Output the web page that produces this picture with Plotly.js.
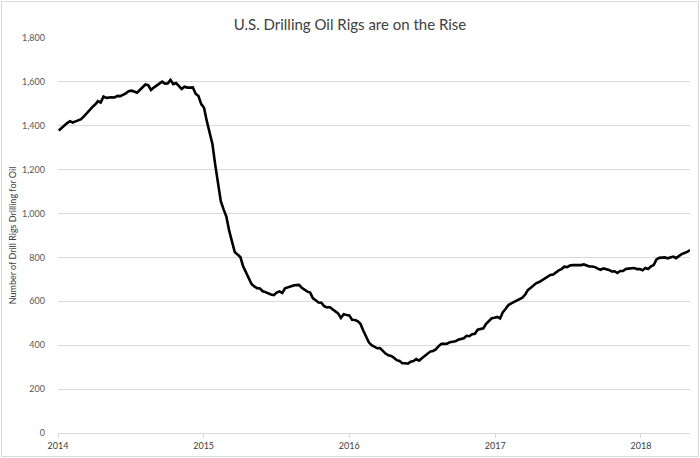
<!DOCTYPE html>
<html>
<head>
<meta charset="utf-8">
<script src="https://cdn.plot.ly/plotly-3.0.1.min.js"></script>
<style>
html,body{margin:0;padding:0;background:#fff;}
#wrap{position:relative;width:700px;height:458px;}
#chart{width:700px;height:458px;}
#frame{position:absolute;left:1px;top:1px;width:696px;height:454px;border:1px solid #d9d9d9;pointer-events:none;}
</style>
</head>
<body>
<div id="wrap"><div id="chart"></div><div id="frame"></div></div>
<script>
// Weekly U.S. oil rig counts, first week ending 2014-01-03
const startDate = "2014-01-03";
const rigs2014 = [1378,1390,1402,1412,1421,1415,1420,1424,1430,1443,1458,1471,1485,1497,1512,1506,1533,1527,1529,1530,1529,1536,1535,1541,1547,1558,1560,1556,1551,1563,1575,1588,1585,1563,1574,1583,1593,1601,1592,1593,1609,1590,1595,1582,1568,1578,1574,1574,1575,1546,1536,1499];
const rigs2015 = [1482,1421,1366,1317,1223,1140,1056,1019,986,922,866,825,813,802,760,734,703,679,668,660,659,646,642,635,631,628,640,645,638,659,664,670,672,674,675,662,652,644,640,614,605,595,594,578,572,574,564,555,545,524,541,538,536];
const rigs2016 = [516,515,510,498,467,439,413,400,392,386,387,372,362,354,351,343,332,328,318,318,316,325,328,337,330,341,351,357,371,374,381,396,406,406,407,414,416,418,425,428,432,443,441,450,452,471,474,477,498,510,523,525];
const rigs2017 = [529,522,551,566,583,591,597,602,609,617,631,652,662,672,683,688,697,703,712,720,722,733,741,747,758,756,763,765,764,766,765,768,763,759,759,756,749,744,750,748,743,736,737,729,738,738,747,749,751,752,747,747];
const rigs2018 = [742,752,747,759,765,791,798,799,800,796,800,804,797,808,815,820,825,834];
const yearTicks = ["2014-01-01","2015-01-01","2016-01-01","2017-01-01","2018-01-01"];
const yearLabels = ["2014","2015","2016","2017","2018"];
const yTickVals = [0,200,400,600,800,1000,1200,1400,1600,1800];

const values = [].concat(rigs2014, rigs2015, rigs2016, rigs2017, rigs2018);
const dates = [];
const d0 = new Date(startDate + "T00:00:00Z");
for (let i = 0; i < values.length; i++) {
  const d = new Date(d0.getTime() + i * 7 * 86400000);
  dates.push(d.toISOString().slice(0,10));
}

const trace = {
  x: dates, y: values, type: "scatter", mode: "lines",
  line: {color: "#000000", width: 2.6, shape: "linear"},
  hoverinfo: "x+y"
};

const fontFam = "Lato, 'Open Sans', sans-serif";
const layout = {
  width: 700, height: 458,
  margin: {l: 58, r: 10, t: 38, b: 25, pad: 0},
  paper_bgcolor: "#ffffff", plot_bgcolor: "#ffffff",
  showlegend: false,
  title: {text: "U.S. Drilling Oil Rigs are on the Rise", font: {family: fontFam, size: 15, color: "#404040"}, x: 0.5, xanchor: "center", y: 0.947, yanchor: "middle"},
  xaxis: {
    type: "date", range: ["2014-01-01", dates[dates.length-1]],
    tickmode: "array", tickvals: yearTicks, ticktext: yearLabels,
    showgrid: false, zeroline: false,
    showline: true, linecolor: "#d9d9d9", linewidth: 1,
    ticks: "outside", ticklen: 4, tickcolor: "#d9d9d9",
    tickfont: {family: fontFam, size: 9, color: "#404040"}
  },
  yaxis: {
    range: [0, 1800], tickmode: "array", tickvals: yTickVals,
    tickformat: ",d", showgrid: true, gridcolor: "#d9d9d9", gridwidth: 1,
    zeroline: false, showline: false, ticks: "", ticklabelstandoff: 12,
    tickfont: {family: fontFam, size: 9, color: "#595959"},
    title: {text: "Number of Drill Rigs Drilling for Oil", font: {family: fontFam, size: 9, color: "#404040"}, standoff: 3}
  }
};

Plotly.newPlot("chart", [trace], layout, {displayModeBar: false, staticPlot: true});
</script>
</body>
</html>
